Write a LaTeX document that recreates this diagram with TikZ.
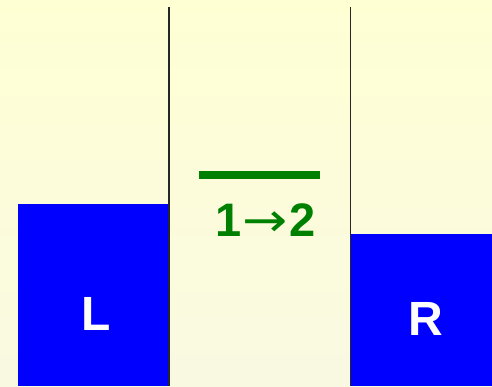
\documentclass[tikz,border=0pt]{standalone}
\usepackage{fontspec}
\setmainfont{Liberation Sans}
\newfontfamily\arrfont{DejaVu Sans}
\definecolor{bgtop}{HTML}{FFFFD4}
\definecolor{bgbot}{HTML}{F9F9E2}
\definecolor{blk}{HTML}{0000FF}
\definecolor{grn}{HTML}{008000}
\begin{document}
\begin{tikzpicture}[x=1pt,y=-1pt,
  wall/.style={draw=black!85,line width=1.8pt},
  block/.style={fill=blk,draw=none},
  lbl/.style={text=white,font=\fontsize{48}{48}\selectfont\bfseries,inner sep=0pt,anchor=base},
  glab/.style={text=grn,font=\fontsize{47}{47}\selectfont\bfseries,inner sep=0pt,anchor=base}]
\shade[top color=bgtop,bottom color=bgbot] (0,0) rectangle (492,386);
\useasboundingbox (0,0) rectangle (492,386);
\path[block] (18,204) rectangle (169,386);
\path[block] (351,234) rectangle (492,386);
\coordinate (lt) at (169,7);
\coordinate (lb) at (169,386);
\coordinate (rt) at (350.5,7);
\coordinate (rb) at (350.5,386);
\draw[wall] (lt) -- (lb);
\draw[wall] (rt) -- (rb);
\fill[grn] (199,171) rectangle (320,179);
\node[glab] (t) at (265.5,236) {1\kern1pt{\arrfont\mdseries\scalebox{1.15}[1]{→}}\kern1pt2};
\node[lbl] (L) at (96.5,330) {L};
\node[lbl] (R) at (426,335) {R};
\end{tikzpicture}
\end{document}
